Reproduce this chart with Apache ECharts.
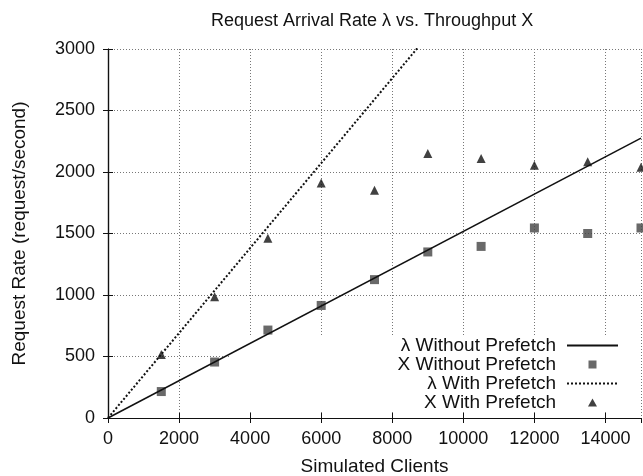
<!DOCTYPE html>
<html>
<head>
<meta charset="utf-8">
<script src="https://cdn.jsdelivr.net/npm/echarts@6/dist/echarts.min.js"></script>
<style>
  html, body { margin: 0; padding: 0; background: #fff; }
  #chart { width: 643px; height: 476px; }
</style>
</head>
<body>
<div id="chart"></div>
<script>
// simulated clients
const clients = [1500, 3000, 4500, 6000, 7500, 9000, 10500, 12000, 13500, 15000];
// throughput, without prefetch (squares)
const xWithout = [215, 455, 715, 915, 1125, 1350, 1395, 1545, 1500, 1545];
// throughput, with prefetch (triangles)
const xWith = [517, 986, 1462, 1911, 1851, 2150, 2109, 2054, 2084, 2038];
// arrival rate lines: [clients, rate] endpoints
const lambdaWithout = [[0, 0], [15000, 2275]];
const lambdaWith = [[0, 0], [15000, 5180]];

const font = 'Liberation Sans, Arial, Helvetica, sans-serif';
const ink = '#111';
const fs = 18;

const chart = echarts.init(document.getElementById('chart'));

const pairs = (xs, ys) => xs.map((x, i) => [x, ys[i]]);
const plain = v => String(v);
const noDot = { color: 'rgba(0,0,0,0)', borderWidth: 0 };
// small marks centred in a 51x8 legend slot (tiny corner points keep the box)
const pad = 'M0,0h0.01v0.01h-0.01zM51,8h0.01v0.01h-0.01z';
const squareIcon = 'path://' + pad + 'M21.5,0h8v8h-8z';
const triangleIcon = 'path://' + pad + 'M25.5,0L30,8H21z';

const option = {
  animation: false,
  backgroundColor: '#fff',
  textStyle: { fontFamily: font, color: ink },
  title: {
    text: 'Request Arrival Rate λ vs. Throughput X',
    left: 211,
    top: 12,
    padding: 0,
    textStyle: { fontFamily: font, fontSize: fs, fontWeight: 'normal', color: ink }
  },
  grid: { left: 108, right: 2, top: 49, bottom: 58, outerBoundsMode: 'none' },
  legend: {
    orient: 'vertical',
    align: 'right',
    right: 3,
    top: 336,
    z: 1,
    padding: [0, 21, 0, 168],
    backgroundColor: '#fff',
    itemWidth: 51,
    itemHeight: 8,
    itemGap: 0,
    textStyle: { fontFamily: font, fontSize: 19, lineHeight: 19, color: ink, padding: [0, 6, 0, 0] },
    data: [
      { name: 'λ Without Prefetch', itemStyle: noDot },
      { name: 'X Without Prefetch', icon: squareIcon },
      { name: 'λ With Prefetch', itemStyle: noDot },
      { name: 'X With Prefetch', icon: triangleIcon }
    ]
  },
  xAxis: [
    {
      type: 'value',
      min: 0,
      max: 15000,
      interval: 2000,
      name: 'Simulated Clients',
      nameLocation: 'middle',
      nameGap: 39,
      nameTextStyle: { fontFamily: font, fontSize: 19, color: ink },
      axisLine: { show: true, lineStyle: { color: ink, width: 1.2 } },
      axisTick: { show: true, inside: true, length: 5, lineStyle: { color: ink } },
      axisLabel: { fontFamily: font, fontSize: fs, color: ink, margin: 12, showMaxLabel: false, formatter: plain },
      splitLine: { show: true, lineStyle: { color: '#777', type: [1, 2], width: 1 } }
    },
    {
      type: 'value',
      position: 'top',
      min: 0,
      max: 15000,
      interval: 2000,
      axisLine: { show: true, lineStyle: { color: ink, width: 1.2 } },
      axisTick: { show: true, inside: true, length: 5, lineStyle: { color: ink } },
      axisLabel: { show: false },
      splitLine: { show: false }
    }
  ],
  yAxis: [
    {
      type: 'value',
      min: 0,
      max: 3000,
      interval: 500,
      name: 'Request Rate (request/second)',
      nameLocation: 'middle',
      nameGap: 79,
      nameTextStyle: { fontFamily: font, fontSize: 19, color: ink },
      axisLine: { show: true, lineStyle: { color: ink, width: 1.2 } },
      axisTick: { show: true, inside: true, length: 5, lineStyle: { color: ink } },
      axisLabel: { fontFamily: font, fontSize: fs, color: ink, margin: 13, formatter: plain },
      splitLine: { show: true, lineStyle: { color: '#777', type: [1, 2], width: 1 } }
    },
    {
      type: 'value',
      position: 'right',
      min: 0,
      max: 3000,
      interval: 500,
      axisLine: { show: true, lineStyle: { color: ink, width: 1.2 } },
      axisTick: { show: true, inside: true, length: 5, lineStyle: { color: ink } },
      axisLabel: { show: false },
      splitLine: { show: false }
    }
  ],
  series: [
    {
      name: 'λ Without Prefetch',
      type: 'line',
      data: lambdaWithout,
      symbol: 'none',
      clip: true,
      color: ink,
      lineStyle: { color: ink, width: 1.5 }
    },
    {
      name: 'X Without Prefetch',
      type: 'scatter',
      data: pairs(clients, xWithout),
      symbol: 'rect',
      symbolSize: 9,
      itemStyle: { color: '#444' }
    },
    {
      name: 'λ With Prefetch',
      type: 'line',
      data: lambdaWith,
      symbol: 'none',
      clip: true,
      color: ink,
      lineStyle: { color: ink, width: 2, type: [2, 2] }
    },
    {
      name: 'X With Prefetch',
      type: 'scatter',
      data: pairs(clients, xWith),
      symbol: 'triangle',
      symbolSize: 9,
      itemStyle: { color: ink }
    }
  ]
};

chart.setOption(option);
</script>
</body>
</html>
